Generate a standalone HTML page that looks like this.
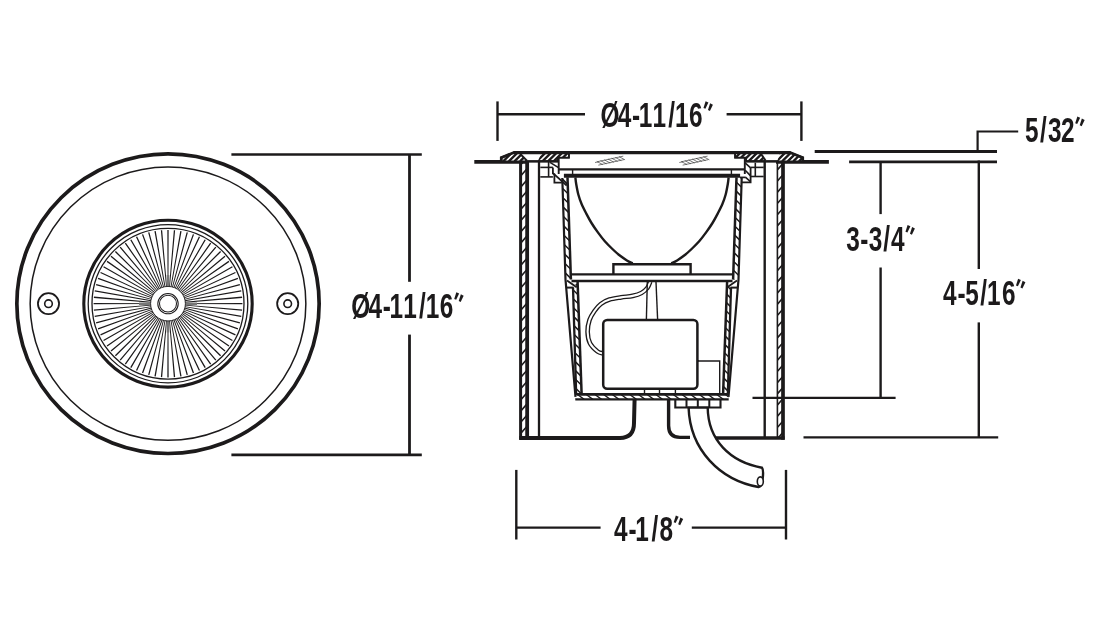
<!DOCTYPE html>
<html><head><meta charset="utf-8">
<style>
html,body{margin:0;padding:0;background:#fff;}
svg{display:block;will-change:transform;}
text{font-family:"Liberation Sans",sans-serif;}
</style></head><body>
<svg width="1105" height="629" viewBox="0 0 1105 629" stroke="#1c1a1b" fill="none" stroke-linecap="butt" stroke-linejoin="miter">
<rect width="1105" height="629" fill="#fff" stroke="none"/>
<g transform="matrix(1 0 0 0.9915 0 2.75)">
<circle cx="168.0" cy="303.5" r="151.15" stroke-width="3.7" fill="none"/>
<circle cx="168.0" cy="303.5" r="137.85" stroke-width="1.5" fill="none"/>
<circle cx="168.0" cy="303.5" r="84.2" stroke-width="3.1" fill="none"/>
<circle cx="168.0" cy="303.5" r="79.8" stroke-width="1.3" fill="none"/>
<circle cx="168.0" cy="303.5" r="76.0" stroke-width="1.3" fill="none"/>
<path d="M185.00 303.94L242.40 304.16L242.40 302.84L185.00 303.06ZM184.90 305.42L242.06 310.64L242.17 309.33L184.97 304.54ZM184.67 306.89L241.16 317.07L241.38 315.77L184.82 306.02ZM184.31 308.32L239.69 323.39L240.04 322.12L184.53 307.47ZM183.82 309.73L237.69 329.57L238.14 328.33L184.13 308.90ZM183.22 311.08L235.15 335.54L235.71 334.34L183.59 310.29ZM182.50 312.38L232.10 341.27L232.76 340.13L182.94 311.62ZM181.67 313.61L228.57 346.71L229.32 345.63L182.18 312.89ZM180.74 314.76L224.57 351.83L225.42 350.82L181.31 314.09ZM179.71 315.83L220.14 356.58L221.08 355.64L180.33 315.21ZM178.59 316.81L215.32 360.92L216.33 360.07L179.26 316.24ZM177.39 317.68L210.13 364.82L211.21 364.07L178.11 317.17ZM176.12 318.44L204.63 368.26L205.77 367.60L176.88 318.00ZM174.79 319.09L198.84 371.21L200.04 370.65L175.58 318.72ZM173.40 319.63L192.83 373.64L194.07 373.19L174.23 319.32ZM171.97 320.03L186.62 375.54L187.89 375.19L172.82 319.81ZM170.52 320.32L180.27 376.88L181.57 376.66L171.39 320.17ZM169.04 320.47L173.83 377.67L175.14 377.56L169.92 320.40ZM167.56 320.50L167.34 377.90L168.66 377.90L168.44 320.50ZM166.08 320.40L160.86 377.56L162.17 377.67L166.96 320.47ZM164.61 320.17L154.43 376.66L155.73 376.88L165.48 320.32ZM163.18 319.81L148.11 375.19L149.38 375.54L164.03 320.03ZM161.77 319.32L141.93 373.19L143.17 373.64L162.60 319.63ZM160.42 318.72L135.96 370.65L137.16 371.21L161.21 319.09ZM159.12 318.00L130.23 367.60L131.37 368.26L159.88 318.44ZM157.89 317.17L124.79 364.07L125.87 364.82L158.61 317.68ZM156.74 316.24L119.67 360.07L120.68 360.92L157.41 316.81ZM155.67 315.21L114.92 355.64L115.86 356.58L156.29 315.83ZM154.69 314.09L110.58 350.82L111.43 351.83L155.26 314.76ZM153.82 312.89L106.68 345.63L107.43 346.71L154.33 313.61ZM153.06 311.62L103.24 340.13L103.90 341.27L153.50 312.38ZM152.41 310.29L100.29 334.34L100.85 335.54L152.78 311.08ZM151.87 308.90L97.86 328.33L98.31 329.57L152.18 309.73ZM151.47 307.47L95.96 322.12L96.31 323.39L151.69 308.32ZM151.18 306.02L94.62 315.77L94.84 317.07L151.33 306.89ZM151.03 304.54L93.83 309.33L93.94 310.64L151.10 305.42ZM151.00 303.06L93.60 302.84L93.60 304.16L151.00 303.94ZM151.10 301.58L93.94 296.36L93.83 297.67L151.03 302.46ZM151.33 300.11L94.84 289.93L94.62 291.23L151.18 300.98ZM151.69 298.68L96.31 283.61L95.96 284.88L151.47 299.53ZM152.18 297.27L98.31 277.43L97.86 278.67L151.87 298.10ZM152.78 295.92L100.85 271.46L100.29 272.66L152.41 296.71ZM153.50 294.62L103.90 265.73L103.24 266.87L153.06 295.38ZM154.33 293.39L107.43 260.29L106.68 261.37L153.82 294.11ZM155.26 292.24L111.43 255.17L110.58 256.18L154.69 292.91ZM156.29 291.17L115.86 250.42L114.92 251.36L155.67 291.79ZM157.41 290.19L120.68 246.08L119.67 246.93L156.74 290.76ZM158.61 289.32L125.87 242.18L124.79 242.93L157.89 289.83ZM159.88 288.56L131.37 238.74L130.23 239.40L159.12 289.00ZM161.21 287.91L137.16 235.79L135.96 236.35L160.42 288.28ZM162.60 287.37L143.17 233.36L141.93 233.81L161.77 287.68ZM164.03 286.97L149.38 231.46L148.11 231.81L163.18 287.19ZM165.48 286.68L155.73 230.12L154.43 230.34L164.61 286.83ZM166.96 286.53L162.17 229.33L160.86 229.44L166.08 286.60ZM168.44 286.50L168.66 229.10L167.34 229.10L167.56 286.50ZM169.92 286.60L175.14 229.44L173.83 229.33L169.04 286.53ZM171.39 286.83L181.57 230.34L180.27 230.12L170.52 286.68ZM172.82 287.19L187.89 231.81L186.62 231.46L171.97 286.97ZM174.23 287.68L194.07 233.81L192.83 233.36L173.40 287.37ZM175.58 288.28L200.04 236.35L198.84 235.79L174.79 287.91ZM176.88 289.00L205.77 239.40L204.63 238.74L176.12 288.56ZM178.11 289.83L211.21 242.93L210.13 242.18L177.39 289.32ZM179.26 290.76L216.33 246.93L215.32 246.08L178.59 290.19ZM180.33 291.79L221.08 251.36L220.14 250.42L179.71 291.17ZM181.31 292.91L225.42 256.18L224.57 255.17L180.74 292.24ZM182.18 294.11L229.32 261.37L228.57 260.29L181.67 293.39ZM182.94 295.38L232.76 266.87L232.10 265.73L182.50 294.62ZM183.59 296.71L235.71 272.66L235.15 271.46L183.22 295.92ZM184.13 298.10L238.14 278.67L237.69 277.43L183.82 297.27ZM184.53 299.53L240.04 284.88L239.69 283.61L184.31 298.68ZM184.82 300.98L241.38 291.23L241.16 289.93L184.67 300.11ZM184.97 302.46L242.17 297.67L242.06 296.36L184.90 301.58Z" fill="#1c1a1b" stroke="none"/>
<path d="M185.00 303.50L197.00 303.50M168.00 320.50L168.00 332.50M151.00 303.50L139.00 303.50M168.00 286.50L168.00 274.50" stroke-width="2.6" stroke="#777" fill="none"/>
<circle cx="168.0" cy="303.5" r="17.4" stroke-width="0.9" fill="#fff"/>
<circle cx="168.0" cy="303.5" r="10.2" stroke-width="1.05" fill="none"/>
<circle cx="168.0" cy="303.5" r="8.5" stroke-width="1.05" fill="none"/>
<circle cx="48.5" cy="303.5" r="10.55" stroke-width="1.8" fill="none"/>
<circle cx="48.5" cy="303.5" r="3.8" stroke-width="1.6" fill="none"/>
<circle cx="287.7" cy="303.5" r="10.55" stroke-width="1.8" fill="none"/>
<circle cx="287.7" cy="303.5" r="3.8" stroke-width="1.6" fill="none"/>
</g>
<line x1="231.40" y1="154.50" x2="421.80" y2="154.50" stroke-width="2.6" />
<line x1="231.40" y1="454.90" x2="421.80" y2="454.90" stroke-width="2.6" />
<line x1="409.50" y1="154.50" x2="409.50" y2="281.80" stroke-width="2.8" />
<line x1="409.50" y1="334.60" x2="409.50" y2="454.90" stroke-width="2.8" />
<text transform="translate(0,318.10) scale(0.685,1)" x="512.73 537.96 558.62 568.53 588.53 611.62 621.37 641.92 657.90" y="0.00 0.00 0.00 0.00 0.00 0.00 0.00 0.00 -7.57" rotate="0 0 0 0 0 0 0 0 18" font-size="35.6" font-weight="bold" stroke="none" fill="#1c1a1b">Ø4-11/16<tspan font-size="29.0">″</tspan></text>
<line x1="474.30" y1="161.90" x2="528.00" y2="161.90" stroke-width="3.9" />
<line x1="776.00" y1="161.90" x2="828.90" y2="161.90" stroke-width="3.9" />
<line x1="849.10" y1="161.80" x2="997.00" y2="161.80" stroke-width="2.8" />
<line x1="814.70" y1="151.50" x2="997.00" y2="151.50" stroke-width="2.8" />
<polygon points="514.20,152.40 501.00,157.40 501.00,161.40 558.00,161.40 558.00,157.70 568.90,157.70 568.90,152.40" stroke-width="1.6" fill="#fff" />
<clipPath id="c1"><polygon points="514.20,152.40 501.00,157.40 501.00,161.40 558.00,161.40 558.00,157.70 568.90,157.70 568.90,152.40"/></clipPath>
<g clip-path="url(#c1)">
<path d="M486.40 161.40L495.40 152.40M492.00 161.40L501.00 152.40M497.60 161.40L506.60 152.40M503.20 161.40L512.20 152.40M508.80 161.40L517.80 152.40M514.40 161.40L523.40 152.40M520.00 161.40L529.00 152.40M525.60 161.40L534.60 152.40M531.20 161.40L540.20 152.40M536.80 161.40L545.80 152.40M542.40 161.40L551.40 152.40M548.00 161.40L557.00 152.40M553.60 161.40L562.60 152.40M559.20 161.40L568.20 152.40M564.80 161.40L573.80 152.40M570.40 161.40L579.40 152.40M576.00 161.40L585.00 152.40M581.60 161.40L590.60 152.40" stroke-width="2.3" fill="none" />
</g>
<polygon points="520.30,153.00 541.30,153.00 537.70,161.40 526.90,161.40" stroke-width="0" fill="#fff" stroke="none"/>
<line x1="520.30" y1="154.00" x2="526.90" y2="160.60" stroke-width="2.0" />
<polygon points="789.80,152.40 803.00,157.40 803.00,161.40 746.00,161.40 746.00,157.70 735.10,157.70 735.10,152.40" stroke-width="1.6" fill="#fff" />
<clipPath id="c2"><polygon points="789.80,152.40 803.00,157.40 803.00,161.40 746.00,161.40 746.00,157.70 735.10,157.70 735.10,152.40"/></clipPath>
<g clip-path="url(#c2)">
<path d="M720.50 161.40L729.50 152.40M726.10 161.40L735.10 152.40M731.70 161.40L740.70 152.40M737.30 161.40L746.30 152.40M742.90 161.40L751.90 152.40M748.50 161.40L757.50 152.40M754.10 161.40L763.10 152.40M759.70 161.40L768.70 152.40M765.30 161.40L774.30 152.40M770.90 161.40L779.90 152.40M776.50 161.40L785.50 152.40M782.10 161.40L791.10 152.40M787.70 161.40L796.70 152.40M793.30 161.40L802.30 152.40M798.90 161.40L807.90 152.40M804.50 161.40L813.50 152.40M810.10 161.40L819.10 152.40M815.70 161.40L824.70 152.40" stroke-width="2.3" fill="none" />
</g>
<polygon points="761.10,153.00 780.00,153.00 777.10,161.40 765.50,161.40" stroke-width="0" fill="#fff" stroke="none"/>
<line x1="761.10" y1="154.00" x2="765.50" y2="160.60" stroke-width="2.0" />
<line x1="513.50" y1="152.60" x2="790.50" y2="152.60" stroke-width="3.4" />
<polyline points="514.50,152.30 501.30,157.60 501.30,161.50" stroke-width="2.8" fill="none" />
<polyline points="789.50,152.30 802.70,157.60 802.70,161.50" stroke-width="2.8" fill="none" />
<line x1="526.00" y1="161.30" x2="558.00" y2="161.30" stroke-width="2.4" />
<line x1="778.00" y1="161.30" x2="746.00" y2="161.30" stroke-width="2.4" />
<polyline points="558.00,161.30 558.00,157.70 568.90,157.70 568.90,153.00" stroke-width="1.8" fill="none" />
<polyline points="746.00,161.30 746.00,157.70 735.10,157.70 735.10,153.00" stroke-width="1.8" fill="none" />
<clipPath id="c3"><polygon points="520.60,162.00 527.10,162.00 527.10,438.00 520.60,438.00"/></clipPath>
<g clip-path="url(#c3)">
<path d="M519.60 154.80L528.10 145.03M519.60 166.00L528.10 156.22M519.60 177.20L528.10 167.42M519.60 188.40L528.10 178.62M519.60 199.60L528.10 189.82M519.60 210.80L528.10 201.02M519.60 222.00L528.10 212.22M519.60 233.20L528.10 223.42M519.60 244.40L528.10 234.62M519.60 255.60L528.10 245.82M519.60 266.80L528.10 257.02M519.60 278.00L528.10 268.22M519.60 289.20L528.10 279.42M519.60 300.40L528.10 290.62M519.60 311.60L528.10 301.82M519.60 322.80L528.10 313.02M519.60 334.00L528.10 324.22M519.60 345.20L528.10 335.42M519.60 356.40L528.10 346.62M519.60 367.60L528.10 357.82M519.60 378.80L528.10 369.02M519.60 390.00L528.10 380.22M519.60 401.20L528.10 391.42M519.60 412.40L528.10 402.62M519.60 423.60L528.10 413.82M519.60 434.80L528.10 425.02M519.60 446.00L528.10 436.22M519.60 457.20L528.10 447.42M519.60 468.40L528.10 458.62" stroke-width="1.6" fill="none" />
</g>
<line x1="520.60" y1="162.00" x2="520.60" y2="439.80" stroke-width="3.0" />
<line x1="527.15" y1="162.00" x2="527.15" y2="438.00" stroke-width="3.8" />
<line x1="539.00" y1="162.00" x2="539.00" y2="438.00" stroke-width="2.3" />
<clipPath id="c4"><polygon points="777.40,162.00 783.00,162.00 783.00,438.00 777.40,438.00"/></clipPath>
<g clip-path="url(#c4)">
<path d="M776.40 159.80L784.00 151.06M776.40 171.00L784.00 162.26M776.40 182.20L784.00 173.46M776.40 193.40L784.00 184.66M776.40 204.60L784.00 195.86M776.40 215.80L784.00 207.06M776.40 227.00L784.00 218.26M776.40 238.20L784.00 229.46M776.40 249.40L784.00 240.66M776.40 260.60L784.00 251.86M776.40 271.80L784.00 263.06M776.40 283.00L784.00 274.26M776.40 294.20L784.00 285.46M776.40 305.40L784.00 296.66M776.40 316.60L784.00 307.86M776.40 327.80L784.00 319.06M776.40 339.00L784.00 330.26M776.40 350.20L784.00 341.46M776.40 361.40L784.00 352.66M776.40 372.60L784.00 363.86M776.40 383.80L784.00 375.06M776.40 395.00L784.00 386.26M776.40 406.20L784.00 397.46M776.40 417.40L784.00 408.66M776.40 428.60L784.00 419.86M776.40 439.80L784.00 431.06M776.40 451.00L784.00 442.26M776.40 462.20L784.00 453.46" stroke-width="1.6" fill="none" />
</g>
<line x1="777.40" y1="162.00" x2="777.40" y2="438.00" stroke-width="1.6" />
<line x1="783.00" y1="162.00" x2="783.00" y2="439.70" stroke-width="3.7" />
<line x1="764.70" y1="162.00" x2="764.70" y2="438.00" stroke-width="2.4" />
<path d="M519.3 437.9 L620 437.9 Q634 437.9 634 423 L634.6 399" stroke-width="4.0" fill="none" />
<path d="M668.6 399 L668.6 425.8 Q668.6 437.4 680 437.4 L690 437.4" stroke-width="3.4" fill="none" />
<line x1="716.00" y1="438.00" x2="784.60" y2="438.00" stroke-width="3.6" />
<polyline points="540.30,176.90 552.90,176.90" stroke-width="1.6" fill="none" />
<polyline points="540.30,167.40 552.90,167.40" stroke-width="1.6" fill="none" />
<polyline points="548.60,162.00 548.60,176.90" stroke-width="1.6" fill="none" />
<polyline points="550.00,162.40 558.50,167.60" stroke-width="1.6" fill="none" />
<polyline points="552.90,167.40 552.90,173.50 554.40,174.20 554.40,182.70 561.80,182.70" stroke-width="1.8" fill="none" />
<polyline points="552.90,173.20 566.70,185.50" stroke-width="1.8" fill="none" />
<polyline points="558.70,158.00 558.70,174.00" stroke-width="1.9" fill="none" />
<polyline points="744.80,157.70 744.80,174.00" stroke-width="1.9" fill="none" />
<polyline points="744.80,162.70 750.60,167.80" stroke-width="1.6" fill="none" />
<polyline points="750.60,167.40 763.70,167.40" stroke-width="1.6" fill="none" />
<polyline points="755.30,162.70 755.30,176.50" stroke-width="1.6" fill="none" />
<polyline points="750.60,176.50 763.70,176.50" stroke-width="1.6" fill="none" />
<polyline points="750.60,167.40 750.60,182.30 742.00,182.30" stroke-width="1.8" fill="none" />
<polyline points="745.20,170.30 750.40,175.60" stroke-width="1.6" fill="none" />
<polyline points="745.40,177.20 750.40,181.60" stroke-width="1.6" fill="none" />
<polyline points="740.00,177.40 745.60,177.40" stroke-width="1.7" fill="none" />
<line x1="558.70" y1="169.40" x2="744.80" y2="169.40" stroke-width="2.1" />
<line x1="572.60" y1="169.40" x2="572.60" y2="174.50" stroke-width="1.4" />
<line x1="731.40" y1="169.40" x2="731.40" y2="174.50" stroke-width="1.4" />
<line x1="563.90" y1="175.80" x2="740.10" y2="175.80" stroke-width="4.0" />
<path d="M597.65 161.65L623.25 156.15M598.35 165.15L623.95 159.65M596.79 161.42L602.79 164.62M600.50 160.62L606.50 163.82M604.22 159.82L610.22 163.02M607.93 159.02L613.93 162.22M611.64 158.23L617.64 161.43M615.35 157.43L621.35 160.63M619.06 156.63L625.06 159.83M595.00 162.5L598.50 161.8" stroke-width="0.65" stroke="#333" fill="none"/>
<path d="M681.95 161.65L707.55 156.15M682.65 165.15L708.25 159.65M681.09 161.42L687.09 164.62M684.80 160.62L690.80 163.82M688.52 159.82L694.52 163.02M692.23 159.02L698.23 162.22M695.94 158.23L701.94 161.43M699.65 157.43L705.65 160.63M703.36 156.63L709.36 159.83M679.30 162.5L682.80 161.8" stroke-width="0.65" stroke="#333" fill="none"/>
<clipPath id="c5"><polygon points="562.30,178.00 567.50,177.40 570.90,279.50 565.50,279.50"/></clipPath>
<g clip-path="url(#c5)">
<path d="M561.30 159.70L571.90 170.30M561.30 168.80L571.90 179.40M561.30 177.90L571.90 188.50M561.30 187.00L571.90 197.60M561.30 196.10L571.90 206.70M561.30 205.20L571.90 215.80M561.30 214.30L571.90 224.90M561.30 223.40L571.90 234.00M561.30 232.50L571.90 243.10M561.30 241.60L571.90 252.20M561.30 250.70L571.90 261.30M561.30 259.80L571.90 270.40M561.30 268.90L571.90 279.50M561.30 278.00L571.90 288.60M561.30 287.10L571.90 297.70M561.30 296.20L571.90 306.80" stroke-width="1.5" fill="none" />
</g>
<polyline points="562.30,178.00 565.50,279.50 575.50,396.90" stroke-width="2.2" fill="none" />
<polyline points="567.50,177.40 570.90,279.50" stroke-width="2.5" fill="none" />
<clipPath id="c6"><polygon points="573.00,287.20 577.60,282.00 581.60,393.70 576.20,395.40"/></clipPath>
<g clip-path="url(#c6)">
<path d="M572.00 262.70L582.60 273.30M572.00 271.40L582.60 282.00M572.00 280.10L582.60 290.70M572.00 288.80L582.60 299.40M572.00 297.50L582.60 308.10M572.00 306.20L582.60 316.80M572.00 314.90L582.60 325.50M572.00 323.60L582.60 334.20M572.00 332.30L582.60 342.90M572.00 341.00L582.60 351.60M572.00 349.70L582.60 360.30M572.00 358.40L582.60 369.00M572.00 367.10L582.60 377.70M572.00 375.80L582.60 386.40M572.00 384.50L582.60 395.10M572.00 393.20L582.60 403.80M572.00 401.90L582.60 412.50M572.00 410.60L582.60 421.20" stroke-width="1.5" fill="none" />
</g>
<polyline points="573.00,287.20 576.20,395.40" stroke-width="2.3" fill="none" />
<polyline points="577.60,282.00 581.60,393.70" stroke-width="2.5" fill="none" />
<polyline points="566.50,287.60 573.40,287.60" stroke-width="2.0" fill="none" />
<polyline points="567.00,280.50 576.70,287.20" stroke-width="1.9" fill="none" />
<clipPath id="c7"><polygon points="741.70,178.00 736.50,177.40 733.10,279.50 738.50,279.50"/></clipPath>
<g clip-path="url(#c7)">
<path d="M732.10 159.70L742.70 170.30M732.10 168.80L742.70 179.40M732.10 177.90L742.70 188.50M732.10 187.00L742.70 197.60M732.10 196.10L742.70 206.70M732.10 205.20L742.70 215.80M732.10 214.30L742.70 224.90M732.10 223.40L742.70 234.00M732.10 232.50L742.70 243.10M732.10 241.60L742.70 252.20M732.10 250.70L742.70 261.30M732.10 259.80L742.70 270.40M732.10 268.90L742.70 279.50M732.10 278.00L742.70 288.60M732.10 287.10L742.70 297.70M732.10 296.20L742.70 306.80" stroke-width="1.5" fill="none" />
</g>
<polyline points="741.70,178.00 738.50,279.50 728.50,396.90" stroke-width="2.2" fill="none" />
<polyline points="736.50,177.40 733.10,279.50" stroke-width="2.5" fill="none" />
<clipPath id="c8"><polygon points="731.00,287.20 727.10,282.00 723.10,393.70 727.80,395.40"/></clipPath>
<g clip-path="url(#c8)">
<path d="M722.10 263.40L732.00 273.30M722.10 272.10L732.00 282.00M722.10 280.80L732.00 290.70M722.10 289.50L732.00 299.40M722.10 298.20L732.00 308.10M722.10 306.90L732.00 316.80M722.10 315.60L732.00 325.50M722.10 324.30L732.00 334.20M722.10 333.00L732.00 342.90M722.10 341.70L732.00 351.60M722.10 350.40L732.00 360.30M722.10 359.10L732.00 369.00M722.10 367.80L732.00 377.70M722.10 376.50L732.00 386.40M722.10 385.20L732.00 395.10M722.10 393.90L732.00 403.80M722.10 402.60L732.00 412.50M722.10 411.30L732.00 421.20" stroke-width="1.5" fill="none" />
</g>
<polyline points="731.00,287.20 727.80,395.40" stroke-width="2.3" fill="none" />
<polyline points="727.10,282.00 723.10,393.70" stroke-width="2.5" fill="none" />
<polyline points="737.50,287.60 730.60,287.60" stroke-width="2.0" fill="none" />
<polyline points="737.00,280.50 727.30,287.20" stroke-width="1.9" fill="none" />
<path d="M575.40 177.50C575.53 178.58 575.70 181.12 576.20 184.00C576.70 186.88 577.50 191.47 578.40 194.80C579.30 198.13 580.28 200.87 581.60 204.00C582.92 207.13 584.65 210.43 586.30 213.60C587.95 216.77 589.57 219.87 591.50 223.00C593.43 226.13 595.72 229.40 597.90 232.40C600.08 235.40 602.18 238.23 604.60 241.00C607.02 243.77 609.92 246.62 612.40 249.00C614.88 251.38 617.08 253.40 619.50 255.30C621.92 257.20 624.70 259.05 626.90 260.40C629.10 261.75 631.73 262.90 632.70 263.40" stroke-width="2.4" fill="none" />
<path d="M728.60 177.50C728.47 178.58 728.30 181.12 727.80 184.00C727.30 186.88 726.50 191.47 725.60 194.80C724.70 198.13 723.72 200.87 722.40 204.00C721.08 207.13 719.35 210.43 717.70 213.60C716.05 216.77 714.43 219.87 712.50 223.00C710.57 226.13 708.28 229.40 706.10 232.40C703.92 235.40 701.82 238.23 699.40 241.00C696.98 243.77 694.08 246.62 691.60 249.00C689.12 251.38 686.92 253.40 684.50 255.30C682.08 257.20 679.30 259.05 677.10 260.40C674.90 261.75 672.27 262.90 671.30 263.40" stroke-width="2.4" fill="none" />
<polyline points="613.40,274.00 613.40,264.20 690.60,264.20 690.60,274.00" stroke-width="2.4" fill="none" />
<path d="M650.30 281.50C649.82 282.57 648.88 285.98 647.40 287.90C645.92 289.82 643.85 291.67 641.40 293.00C638.95 294.33 636.08 295.17 632.70 295.90C629.32 296.63 624.97 296.78 621.10 297.40C617.23 298.02 612.88 298.50 609.50 299.60C606.12 300.70 603.30 302.10 600.80 304.00C598.30 305.90 596.38 308.33 594.50 311.00C592.62 313.67 590.65 316.55 589.50 320.00C588.35 323.45 587.52 327.82 587.60 331.70C587.68 335.58 588.35 340.00 590.00 343.30C591.65 346.60 595.33 349.82 597.50 351.50C599.67 353.18 602.08 353.08 603.00 353.40" stroke-width="4.7" fill="none"/>
<path d="M650.30 281.50C649.82 282.57 648.88 285.98 647.40 287.90C645.92 289.82 643.85 291.67 641.40 293.00C638.95 294.33 636.08 295.17 632.70 295.90C629.32 296.63 624.97 296.78 621.10 297.40C617.23 298.02 612.88 298.50 609.50 299.60C606.12 300.70 603.30 302.10 600.80 304.00C598.30 305.90 596.38 308.33 594.50 311.00C592.62 313.67 590.65 316.55 589.50 320.00C588.35 323.45 587.52 327.82 587.60 331.70C587.68 335.58 588.35 340.00 590.00 343.30C591.65 346.60 595.33 349.82 597.50 351.50C599.67 353.18 602.08 353.08 603.00 353.40" stroke-width="2.1" stroke="#fff" fill="none"/>
<line x1="647.30" y1="282.00" x2="646.40" y2="319.00" stroke-width="1.4" />
<line x1="656.00" y1="282.00" x2="657.60" y2="319.00" stroke-width="1.4" />
<line x1="571.00" y1="274.40" x2="733.00" y2="274.40" stroke-width="2.4" />
<line x1="571.50" y1="281.00" x2="732.50" y2="281.00" stroke-width="2.6" />
<rect x="603.2" y="319.9" width="94.2" height="68.9" rx="4" ry="4" stroke-width="2.5" fill="#fff"/>
<polyline points="697.50,361.00 719.70,361.00 719.70,393.00" stroke-width="1.4" fill="none" />
<line x1="697.50" y1="360.70" x2="699.00" y2="360.70" stroke-width="1.4" />
<line x1="644.50" y1="389.00" x2="644.50" y2="393.50" stroke-width="1.4" />
<line x1="659.50" y1="389.00" x2="659.50" y2="393.50" stroke-width="1.4" />
<line x1="675.40" y1="389.00" x2="675.40" y2="393.50" stroke-width="1.4" />
<clipPath id="c9"><polygon points="576.00,394.30 728.00,394.30 728.50,399.40 575.50,399.40"/></clipPath>
<g clip-path="url(#c9)">
<path d="M559.78 394.30L566.80 399.40M568.48 394.30L575.50 399.40M577.18 394.30L584.20 399.40M585.88 394.30L592.90 399.40M594.58 394.30L601.60 399.40M603.28 394.30L610.30 399.40M611.98 394.30L619.00 399.40M620.68 394.30L627.70 399.40M629.38 394.30L636.40 399.40M638.08 394.30L645.10 399.40M646.78 394.30L653.80 399.40M655.48 394.30L662.50 399.40M664.18 394.30L671.20 399.40M672.88 394.30L679.90 399.40M681.58 394.30L688.60 399.40M690.28 394.30L697.30 399.40M698.98 394.30L706.00 399.40M707.68 394.30L714.70 399.40M716.38 394.30L723.40 399.40M725.08 394.30L732.10 399.40M733.78 394.30L740.80 399.40M742.48 394.30L749.50 399.40" stroke-width="1.3" fill="none" />
</g>
<line x1="577.00" y1="394.30" x2="727.00" y2="394.30" stroke-width="2.7" />
<line x1="575.30" y1="399.40" x2="728.70" y2="399.40" stroke-width="2.2" />
<polyline points="675.30,399.00 675.30,407.50 720.50,407.50 720.50,399.00" stroke-width="2.1" fill="none" />
<line x1="686.50" y1="399.00" x2="686.50" y2="407.60" stroke-width="2.0" />
<line x1="697.80" y1="399.00" x2="697.80" y2="407.60" stroke-width="2.0" />
<line x1="709.30" y1="399.00" x2="709.30" y2="407.60" stroke-width="2.0" />
<path d="M688.6 407.6 C690 450 720 480 758.5 487 C763 487.5 764 470 762 467.7 C730 462 708 440 707.7 407.6 Z" stroke-width="2.4" fill="#fff" />
<ellipse cx="760.3" cy="481.5" rx="3" ry="4.6" stroke-width="1.6" fill="#fff"/>
<line x1="497.50" y1="101.40" x2="497.50" y2="140.90" stroke-width="2.4" />
<line x1="801.40" y1="101.40" x2="801.40" y2="140.90" stroke-width="2.4" />
<line x1="497.50" y1="114.30" x2="585.00" y2="114.30" stroke-width="2.4" />
<line x1="726.60" y1="114.30" x2="801.40" y2="114.30" stroke-width="2.4" />
<text transform="translate(0,127.10) scale(0.685,1)" x="876.67 901.90 922.56 932.47 952.47 975.57 985.31 1005.86 1021.84" y="0.00 0.00 0.00 0.00 0.00 0.00 0.00 0.00 -7.57" rotate="0 0 0 0 0 0 0 0 18" font-size="35.6" font-weight="bold" stroke="none" fill="#1c1a1b">Ø4-11/16<tspan font-size="29.0">″</tspan></text>
<polyline points="977.60,150.50 977.60,131.50 1018.20,131.50" stroke-width="2.2" fill="none" />
<text transform="translate(0,142.40) scale(0.685,1)" x="1496.33 1518.27 1530.04 1548.74 1564.46" y="0.00 0.00 0.00 0.00 -7.57" rotate="0 0 0 0 18" font-size="35.6" font-weight="bold" stroke="none" fill="#1c1a1b">5/32<tspan font-size="29.0">″</tspan></text>
<line x1="880.60" y1="162.40" x2="880.60" y2="214.10" stroke-width="2.4" />
<line x1="880.60" y1="267.50" x2="880.60" y2="397.60" stroke-width="2.4" />
<text transform="translate(0,250.80) scale(0.685,1)" x="1235.30 1255.91 1268.15 1289.43 1300.80 1316.65" y="0.00 0.00 0.00 0.00 0.00 -7.57" rotate="0 0 0 0 0 18" font-size="35.6" font-weight="bold" stroke="none" fill="#1c1a1b">3-3/4<tspan font-size="29.0">″</tspan></text>
<line x1="752.50" y1="397.80" x2="895.60" y2="397.80" stroke-width="2.2" />
<line x1="978.80" y1="160.50" x2="978.80" y2="269.00" stroke-width="2.4" />
<line x1="978.80" y1="322.40" x2="978.80" y2="437.00" stroke-width="2.4" />
<text transform="translate(0,304.60) scale(0.685,1)" x="1376.79 1397.67 1409.32 1431.19 1440.72 1462.65 1477.97" y="0.00 0.00 0.00 0.00 0.00 0.00 -7.57" rotate="0 0 0 0 0 0 18" font-size="35.6" font-weight="bold" stroke="none" fill="#1c1a1b">4-5/16<tspan font-size="29.0">″</tspan></text>
<line x1="803.50" y1="437.40" x2="998.20" y2="437.40" stroke-width="2.3" />
<line x1="516.30" y1="469.90" x2="516.30" y2="539.50" stroke-width="2.4" />
<line x1="786.00" y1="469.90" x2="786.00" y2="539.50" stroke-width="2.4" />
<line x1="516.30" y1="527.60" x2="600.60" y2="527.60" stroke-width="2.4" />
<line x1="691.80" y1="527.60" x2="786.00" y2="527.60" stroke-width="2.4" />
<text transform="translate(0,541.20) scale(0.685,1)" x="896.42 917.37 927.50 951.11 962.78 978.33" y="0.00 0.00 0.00 0.00 0.00 -7.57" rotate="0 0 0 0 0 18" font-size="35.6" font-weight="bold" stroke="none" fill="#1c1a1b">4-1/8<tspan font-size="29.0">″</tspan></text>
</svg>
</body></html>
